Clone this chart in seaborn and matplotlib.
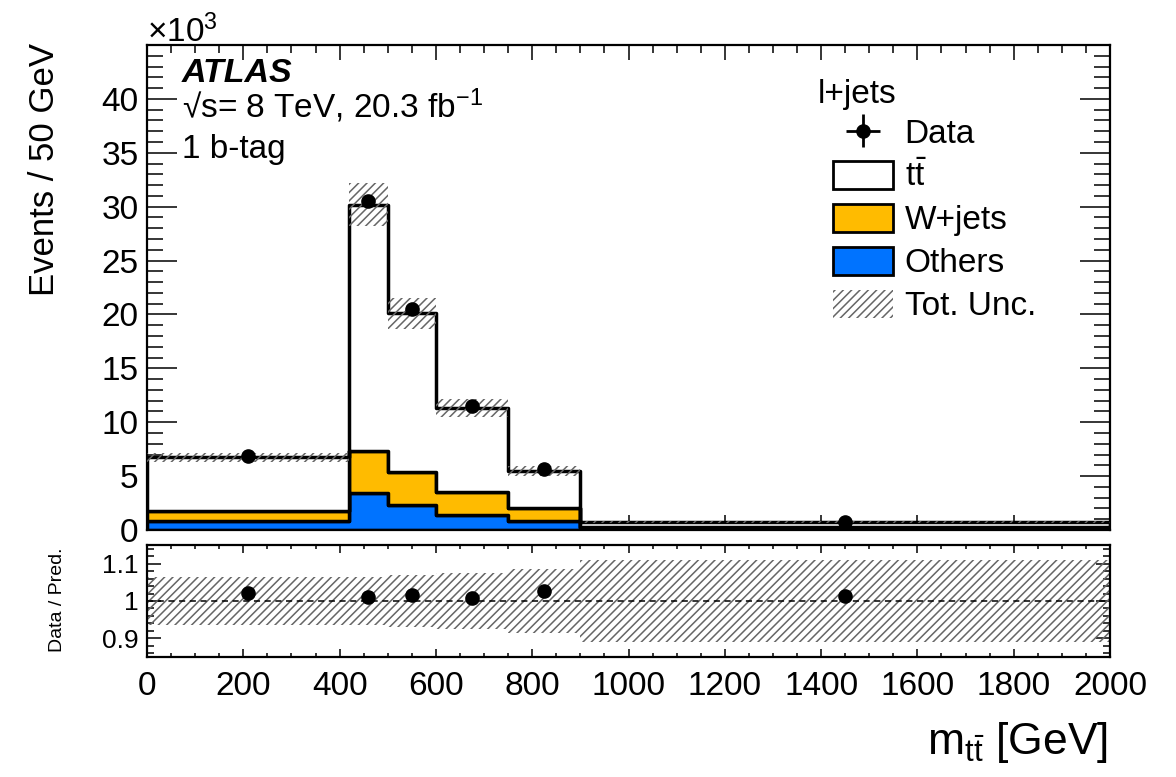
import numpy as np
import pandas as pd
import matplotlib
matplotlib.use("Agg")
import matplotlib.pyplot as plt
import seaborn as sns
from matplotlib.ticker import MultipleLocator, FixedLocator
from matplotlib.patches import Patch

# ---------------- data (in units of 10^3 events / 50 GeV) ----------------
bin_edges = [0, 420, 500, 600, 750, 900, 2000]
others = [0.85, 3.45, 2.30, 1.40, 0.83, 0.14]
wjets = [0.95, 3.90, 3.10, 2.15, 1.17, 0.16]
ttbar = [4.95, 22.85, 14.70, 7.75, 3.50, 0.45]
data = [6.85, 30.55, 20.50, 11.50, 5.70, 0.77]
ratio = [1.022, 1.012, 1.016, 1.008, 1.026, 1.013]
rel_unc = [0.065, 0.065, 0.070, 0.075, 0.085, 0.110]
process_names = ["ttbar", "W+jets", "Others"]
legend_labels = ["Data", r"t$\mathregular{\bar{t}}$", "W+jets", "Others", "Tot. Unc."]
colors = {"ttbar": "#ffffff", "W+jets": "#ffbb00", "Others": "#0073ff"}

sns.set_theme(style="ticks")
plt.rcParams["font.family"] = ["Liberation Sans", "DejaVu Sans"]
plt.rcParams["mathtext.fontset"] = "custom"
plt.rcParams["mathtext.rm"] = "Liberation Sans"
plt.rcParams["mathtext.it"] = "Liberation Sans:italic"
plt.rcParams["mathtext.bf"] = "Liberation Sans:bold"
plt.rcParams["hatch.linewidth"] = 1.1
plt.rcParams["axes.linewidth"] = 1.6
for k in ["text.color", "axes.labelcolor", "xtick.color", "ytick.color", "axes.edgecolor"]:
    plt.rcParams[k] = "black"

edges = np.array(bin_edges, dtype=float)
centers = 0.5 * (edges[:-1] + edges[1:])
widths = np.diff(edges)
total = np.array(others) + np.array(wjets) + np.array(ttbar)
unc = total * np.array(rel_unc)

rows = []
for name, vals in zip(process_names, [ttbar, wjets, others]):
    for c, v in zip(centers, vals):
        rows.append({"mtt": c, "w": v, "process": name})
df = pd.DataFrame(rows)

W, H = 1176, 777
def rect(l, t, r, b):
    return [l / W, 1 - b / H, (r - l) / W, (b - t) / H]

fig = plt.figure(figsize=(W / 100, H / 100), dpi=100)
ax = fig.add_axes(rect(147, 45, 1110, 530))
ax2 = fig.add_axes(rect(147, 545, 1110, 657))

sns.histplot(data=df, x="mtt", weights="w", hue="process", hue_order=process_names,
             bins=list(bin_edges), multiple="stack", element="step", fill=True,
             palette=colors, edgecolor="black", linewidth=2.5, alpha=1,
             legend=False, ax=ax)

# total uncertainty band
ax.bar(edges[:-1], 2 * unc, bottom=total - unc, width=widths, align="edge",
       fill=False, hatch="////", edgecolor="#666666", linewidth=0, zorder=4)

dz = np.zeros(len(data))
eb = ax.errorbar(centers, data, xerr=dz, yerr=dz, fmt="o", color="black",
                 markersize=9.5, elinewidth=2, capsize=0, zorder=6)

ax.set_xlim(0, 2000)
ax.set_ylim(0, 45)
ax.set_xlabel("")
ax.set_ylabel("")
ax.yaxis.set_major_locator(FixedLocator(list(range(0, 45, 5))))
ax.yaxis.set_minor_locator(MultipleLocator(1))
ax.xaxis.set_major_locator(MultipleLocator(200))
ax.xaxis.set_minor_locator(MultipleLocator(50))
ax.tick_params(axis="both", which="both", direction="in", top=True, right=True,
               width=1.1, labelsize=24, pad=6)
ax.tick_params(axis="x", which="major", length=10.8)
ax.tick_params(axis="x", which="minor", length=5.8)
ax.tick_params(axis="y", which="major", length=21.6)
ax.tick_params(axis="y", which="minor", length=11.5)
ax.tick_params(axis="x", labelbottom=False)

# ratio panel
ax2.bar(edges[:-1], 2 * np.array(rel_unc), bottom=1 - np.array(rel_unc), width=widths,
        align="edge", fill=False, hatch="////", edgecolor="#666666", linewidth=0, zorder=2)
ax2.axhline(1.0, color="black", linestyle=(0, (4, 3)), linewidth=1.1, zorder=3)
ax2.plot(centers, ratio, "o", color="black", markersize=9.5, zorder=5)
ax2.set_xlim(0, 2000)
ax2.set_ylim(0.85, 1.15)
ax2.yaxis.set_major_locator(FixedLocator([0.9, 1.0, 1.1]))
ax2.set_yticklabels(["0.9", "1", "1.1"])
ax2.yaxis.set_minor_locator(MultipleLocator(0.02))
ax2.xaxis.set_major_locator(MultipleLocator(200))
ax2.xaxis.set_minor_locator(MultipleLocator(50))
ax2.tick_params(axis="both", which="both", direction="in", top=True, right=True, width=1.1)
ax2.tick_params(axis="x", which="major", length=6, labelsize=24, pad=10)
ax2.tick_params(axis="x", which="minor", length=3)
ax2.tick_params(axis="y", which="major", length=10, labelsize=19, pad=6)
ax2.tick_params(axis="y", which="minor", length=5)

# texts
fig.text(45 / W, 1 - 43 / H, "Events / 50 GeV", rotation=90, ha="center", va="top", fontsize=25)
fig.text(57 / W, 1 - 600 / H, "Data / Pred.", rotation=90, ha="center", va="center", fontsize=14)
fig.text(1108 / W, 1 - 754 / H, r"m$_{\mathregular{t\bar{t}}}$ [GeV]", ha="right", va="baseline", fontsize=32)
fig.text(147 / W, 1 - 42 / H, r"×10$^{\mathregular{3}}$", ha="left", va="baseline", fontsize=24)
fig.text(182 / W, 1 - 82 / H, "ATLAS", fontsize=24.5, fontweight="bold", fontstyle="italic", va="baseline")
fig.text(182 / W, 1 - 118 / H, r"√s= 8 TeV, 20.3 fb$^{\mathregular{-1}}$", fontsize=24, va="baseline")
fig.text(182 / W, 1 - 158 / H, "1 b-tag", fontsize=24, va="baseline")
fig.text(818 / W, 1 - 103 / H, "l+jets", fontsize=24, va="baseline")

handles = [
    eb,
    Patch(facecolor=colors["ttbar"], edgecolor="black", linewidth=2),
    Patch(facecolor=colors["W+jets"], edgecolor="black", linewidth=2),
    Patch(facecolor=colors["Others"], edgecolor="black", linewidth=2),
    Patch(facecolor="none", edgecolor="#666666", hatch="////", linewidth=0),
]
ax.legend(handles, legend_labels, loc="upper left",
          bbox_to_anchor=(833 / W, 1 - 118 / H), bbox_transform=fig.transFigure,
          frameon=False, fontsize=24, handlelength=1.8, handleheight=0.9,
          handletextpad=0.35, labelspacing=0.32, borderpad=0, borderaxespad=0)

fig.savefig("out.png", dpi=100)
